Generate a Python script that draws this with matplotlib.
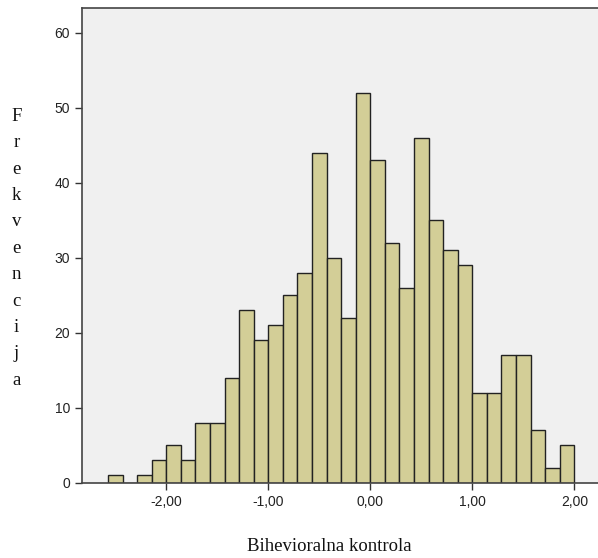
import matplotlib
matplotlib.use('Agg')
import matplotlib.pyplot as plt
import numpy as np

# histogram counts, bin width 1/7, first bin starts at -18/7
counts = [1, 0, 1, 3, 5, 3, 8, 8, 14, 23, 19, 21, 25, 28, 44, 30, 22,
          52, 43, 32, 26, 46, 35, 31, 29, 12, 12, 17, 17, 7, 2, 5]
bin_width = 1 / 7
first_edge = -18 / 7
xticks = [-2, -1, 0, 1, 2]
xtick_labels = ['-2,00', '-1,00', '0,00', '1,00', '2,00']
yticks = [0, 10, 20, 30, 40, 50, 60]
ylabel = 'Frekvencija'
xlabel = 'Bihevioralna kontrola'

W, H = 598, 558
fig = plt.figure(figsize=(W / 100, H / 100), dpi=100)
ax = fig.add_axes([82 / W, (H - 483) / H, (W - 82) / W, (483 - 8) / H])
ax.set_facecolor('#f0f0f0')

left_edges = first_edge + np.arange(len(counts)) * bin_width
ax.bar(left_edges, counts, width=bin_width, align='edge',
       color='#d3ce97', edgecolor='#222222', linewidth=1.0)

ax.set_xlim(-2.826, 2.232)
ax.set_ylim(0, 63.3)
ax.set_xticks(xticks)
ax.set_xticklabels(xtick_labels)
ax.set_yticks(yticks)
ax.tick_params(axis='both', direction='out', length=5, width=1,
               colors='#333333', labelsize=10, labelcolor='#222222')
for lab in ax.get_xticklabels() + ax.get_yticklabels():
    lab.set_fontfamily('Liberation Sans')

ax.spines['right'].set_visible(False)
for s in ['left', 'bottom', 'top']:
    ax.spines[s].set_color('#444444')
    ax.spines[s].set_linewidth(1.2)

# stacked vertical y label, one letter per line
for i, ch in enumerate(ylabel):
    fig.text(16.5 / W, 1 - (120.7 + i * 26.4) / H, ch, ha='center',
             va='baseline', fontsize=13.5, family='Liberation Serif',
             color='#111111')

fig.text(329 / W, 1 - 551 / H, xlabel, ha='center', va='baseline',
         fontsize=13.5, family='Liberation Serif', color='#111111')

fig.savefig('out.png', dpi=100)
